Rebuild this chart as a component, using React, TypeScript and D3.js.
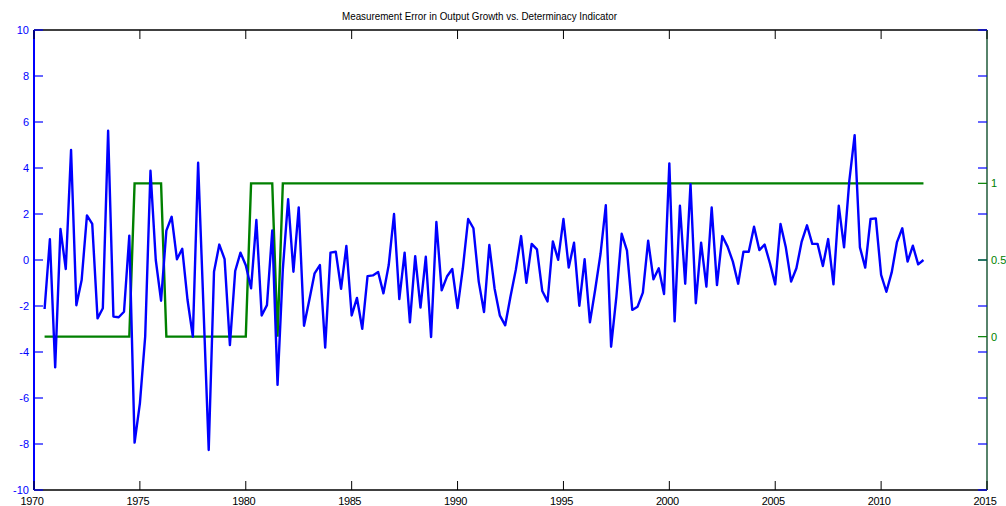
import React from 'react';
import * as d3 from 'd3';

// quarterly sample, first obs 1970Q3
const startYear = 1970.5;
const step = 0.25;

// measurement error in output growth (blue, left axis)
const measErr = [
  -2.13, 0.9, // 1970 Q3-Q4
  -4.67, 1.35, -0.39, 4.78, // 1971
  -1.97, -0.87, 1.94, 1.57, // 1972
  -2.54, -2.1, 5.62, -2.46, // 1973
  -2.49, -2.25, 1.06, -7.94, // 1974
  -6.23, -3.33, 3.88, 0.0, // 1975
  -1.77, 1.28, 1.88, 0.03, // 1976
  0.49, -1.74, -3.33, 4.23, // 1977
  -2.0, -8.26, -0.51, 0.67, // 1978
  0.04, -3.7, -0.48, 0.32, // 1979
  -0.23, -1.23, 1.74, -2.41, // 1980
  -1.96, 1.28, -5.43, -0.4, // 1981
  2.64, -0.51, 2.29, -2.86, // 1982
  -1.74, -0.58, -0.22, -3.81, // 1983
  0.32, 0.36, -1.25, 0.61, // 1984
  -2.41, -1.65, -2.99, -0.7, // 1985
  -0.67, -0.52, -1.45, -0.22, // 1986
  2.0, -1.7, 0.32, -2.71, // 1987
  0.17, -2.07, 0.14, -3.35, // 1988
  1.65, -1.32, -0.72, -0.39, // 1989
  -2.09, -0.36, 1.78, 1.38, // 1990
  -0.94, -2.26, 0.65, -1.25, // 1991
  -2.42, -2.84, -1.59, -0.43, // 1992
  1.04, -0.99, 0.7, 0.46, // 1993
  -1.35, -1.8, 0.81, 0.01, // 1994
  1.78, -0.33, 0.75, -1.99, // 1995
  0.03, -2.71, -1.28, 0.26, // 1996
  2.38, -3.77, -1.59, 1.14, // 1997
  0.41, -2.17, -2.03, -1.42, // 1998
  0.84, -0.84, -0.36, -1.48, // 1999
  4.2, -2.67, 2.36, -1.03, // 2000
  3.3, -1.88, 0.75, -1.16, // 2001
  2.28, -1.09, 1.04, 0.58, // 2002
  -0.07, -1.03, 0.36, 0.36, // 2003
  1.45, 0.43, 0.67, -0.14, // 2004
  -1.06, 1.57, 0.55, -0.94, // 2005
  -0.36, 0.8, 1.51, 0.7, // 2006
  0.7, -0.26, 0.91, -1.06, // 2007
  2.36, 0.55, 3.45, 5.43, // 2008
  0.55, -0.33, 1.78, 1.81, // 2009
  -0.65, -1.38, -0.54, 0.78, // 2010
  1.38, -0.07, 0.62, -0.19, // 2011
  0.0, // 2012 Q1
];

// determinacy indicator (green, right axis)
const determinacy = [
  0, 0, // 1970
  0, 0, 0, 0, // 1971
  0, 0, 0, 0, // 1972
  0, 0, 0, 0, // 1973
  0, 0, 0, 1, // 1974
  1, 1, 1, 1, // 1975
  1, 0, 0, 0, // 1976
  0, 0, 0, 0, // 1977
  0, 0, 0, 0, // 1978
  0, 0, 0, 0, // 1979
  0, 1, 1, 1, // 1980
  1, 1, 0, 1, // 1981
  1, 1, 1, 1, 1, 1, 1, 1, 1, 1, 1, 1, 1, 1, 1, 1, // 1982-85
  1, 1, 1, 1, 1, 1, 1, 1, 1, 1, 1, 1, 1, 1, 1, 1, // 1986-89
  1, 1, 1, 1, 1, 1, 1, 1, 1, 1, 1, 1, 1, 1, 1, 1, // 1990-93
  1, 1, 1, 1, 1, 1, 1, 1, 1, 1, 1, 1, 1, 1, 1, 1, // 1994-97
  1, 1, 1, 1, 1, 1, 1, 1, 1, 1, 1, 1, 1, 1, 1, 1, // 1998-01
  1, 1, 1, 1, 1, 1, 1, 1, 1, 1, 1, 1, 1, 1, 1, 1, // 2002-05
  1, 1, 1, 1, 1, 1, 1, 1, 1, 1, 1, 1, 1, 1, 1, 1, // 2006-09
  1, 1, 1, 1, 1, 1, 1, 1, // 2010-11
  1, // 2012
];

const xTicks = [1970, 1975, 1980, 1985, 1990, 1995, 2000, 2005, 2010, 2015];
const yTicks = [-10, -8, -6, -4, -2, 0, 2, 4, 6, 8, 10];
const y2Ticks = [0, 0.5, 1];

const title = 'Measurement Error in Output Growth vs. Determinacy Indicator';

export default function App() {
  const W = 1006;
  const H = 506;
  const left = 34;
  const right = 987;
  const top = 30;
  const bottom = 490;
  const tick = 9;

  const x = d3.scaleLinear().domain([1970, 2015]).range([left, right]);
  const y = d3.scaleLinear().domain([-10, 10]).range([bottom, top]);
  const y2 = d3.scaleLinear().domain([-1, 2]).range([bottom, top]);

  const dates = measErr.map((_, i) => startYear + i * step);

  const blueLine = d3
    .line<number>()
    .x((_, i) => x(dates[i]))
    .y((d) => y(d))(measErr);
  const greenLine = d3
    .line<number>()
    .x((_, i) => x(dates[i]))
    .y((d) => y2(d))(determinacy);

  const font = '"Liberation Sans", Arial, sans-serif';

  return (
    <svg
      width={W}
      height={H}
      style={{ position: 'absolute', left: 0, top: 0, background: '#fff' }}
      fontFamily={font}
    >
      <rect x={0} y={0} width={W} height={H} fill="#fff" />

      {/* data */}
      <path d={greenLine || ''} fill="none" stroke="#008000" strokeWidth={2.4} />
      <path d={blueLine || ''} fill="none" stroke="#0000ff" strokeWidth={2.4} strokeLinejoin="round" />

      {/* box */}
      <line x1={left} x2={right} y1={top} y2={top} stroke="#000" strokeWidth={1.5} />
      <line x1={left} x2={right} y1={bottom} y2={bottom} stroke="#000" strokeWidth={1.5} />
      <line x1={right} x2={right} y1={top} y2={bottom} stroke="#1f5a3a" strokeWidth={1.5} />
      <line x1={left} x2={left} y1={top} y2={bottom} stroke="#0000ff" strokeWidth={2} />

      {/* x ticks */}
      {xTicks.map((t) => (
        <g key={'x' + t}>
          <line x1={x(t)} x2={x(t)} y1={bottom} y2={bottom - tick} stroke="#000" />
          <line x1={x(t)} x2={x(t)} y1={top} y2={top + tick} stroke="#000" />
          <text
            x={x(t) - 2}
            y={505}
            fontSize={11}
            textAnchor="middle"
            fill="#000"
            letterSpacing={-0.4}
          >
            {t}
          </text>
        </g>
      ))}

      {/* left y ticks (mirrored on right) */}
      {yTicks.map((t) => (
        <g key={'y' + t}>
          <line x1={left} x2={left + tick} y1={y(t)} y2={y(t)} stroke="#0000ff" strokeWidth={1.2} />
          <line x1={right} x2={right - tick} y1={y(t)} y2={y(t)} stroke="#0000ff" strokeWidth={1.2} />
          <text
            x={29}
            y={y(t)}
            dy="0.35em"
            fontSize={11}
            textAnchor="end"
            fill="#0000ff"
          >
            {t}
          </text>
        </g>
      ))}

      {/* right y ticks */}
      {y2Ticks.map((t) => (
        <g key={'r' + t}>
          <line x1={right} x2={right - tick} y1={y2(t)} y2={y2(t)} stroke="#008000" strokeWidth={1.2} />
          <text x={991} y={y2(t)} dy="0.35em" fontSize={11} fill="#008000">
            {t}
          </text>
        </g>
      ))}

      <text
        x={342}
        y={20}
        fontSize={11}
        fill="#000"
        textLength={275}
        lengthAdjust="spacingAndGlyphs"
      >
        {title}
      </text>
    </svg>
  );
}
